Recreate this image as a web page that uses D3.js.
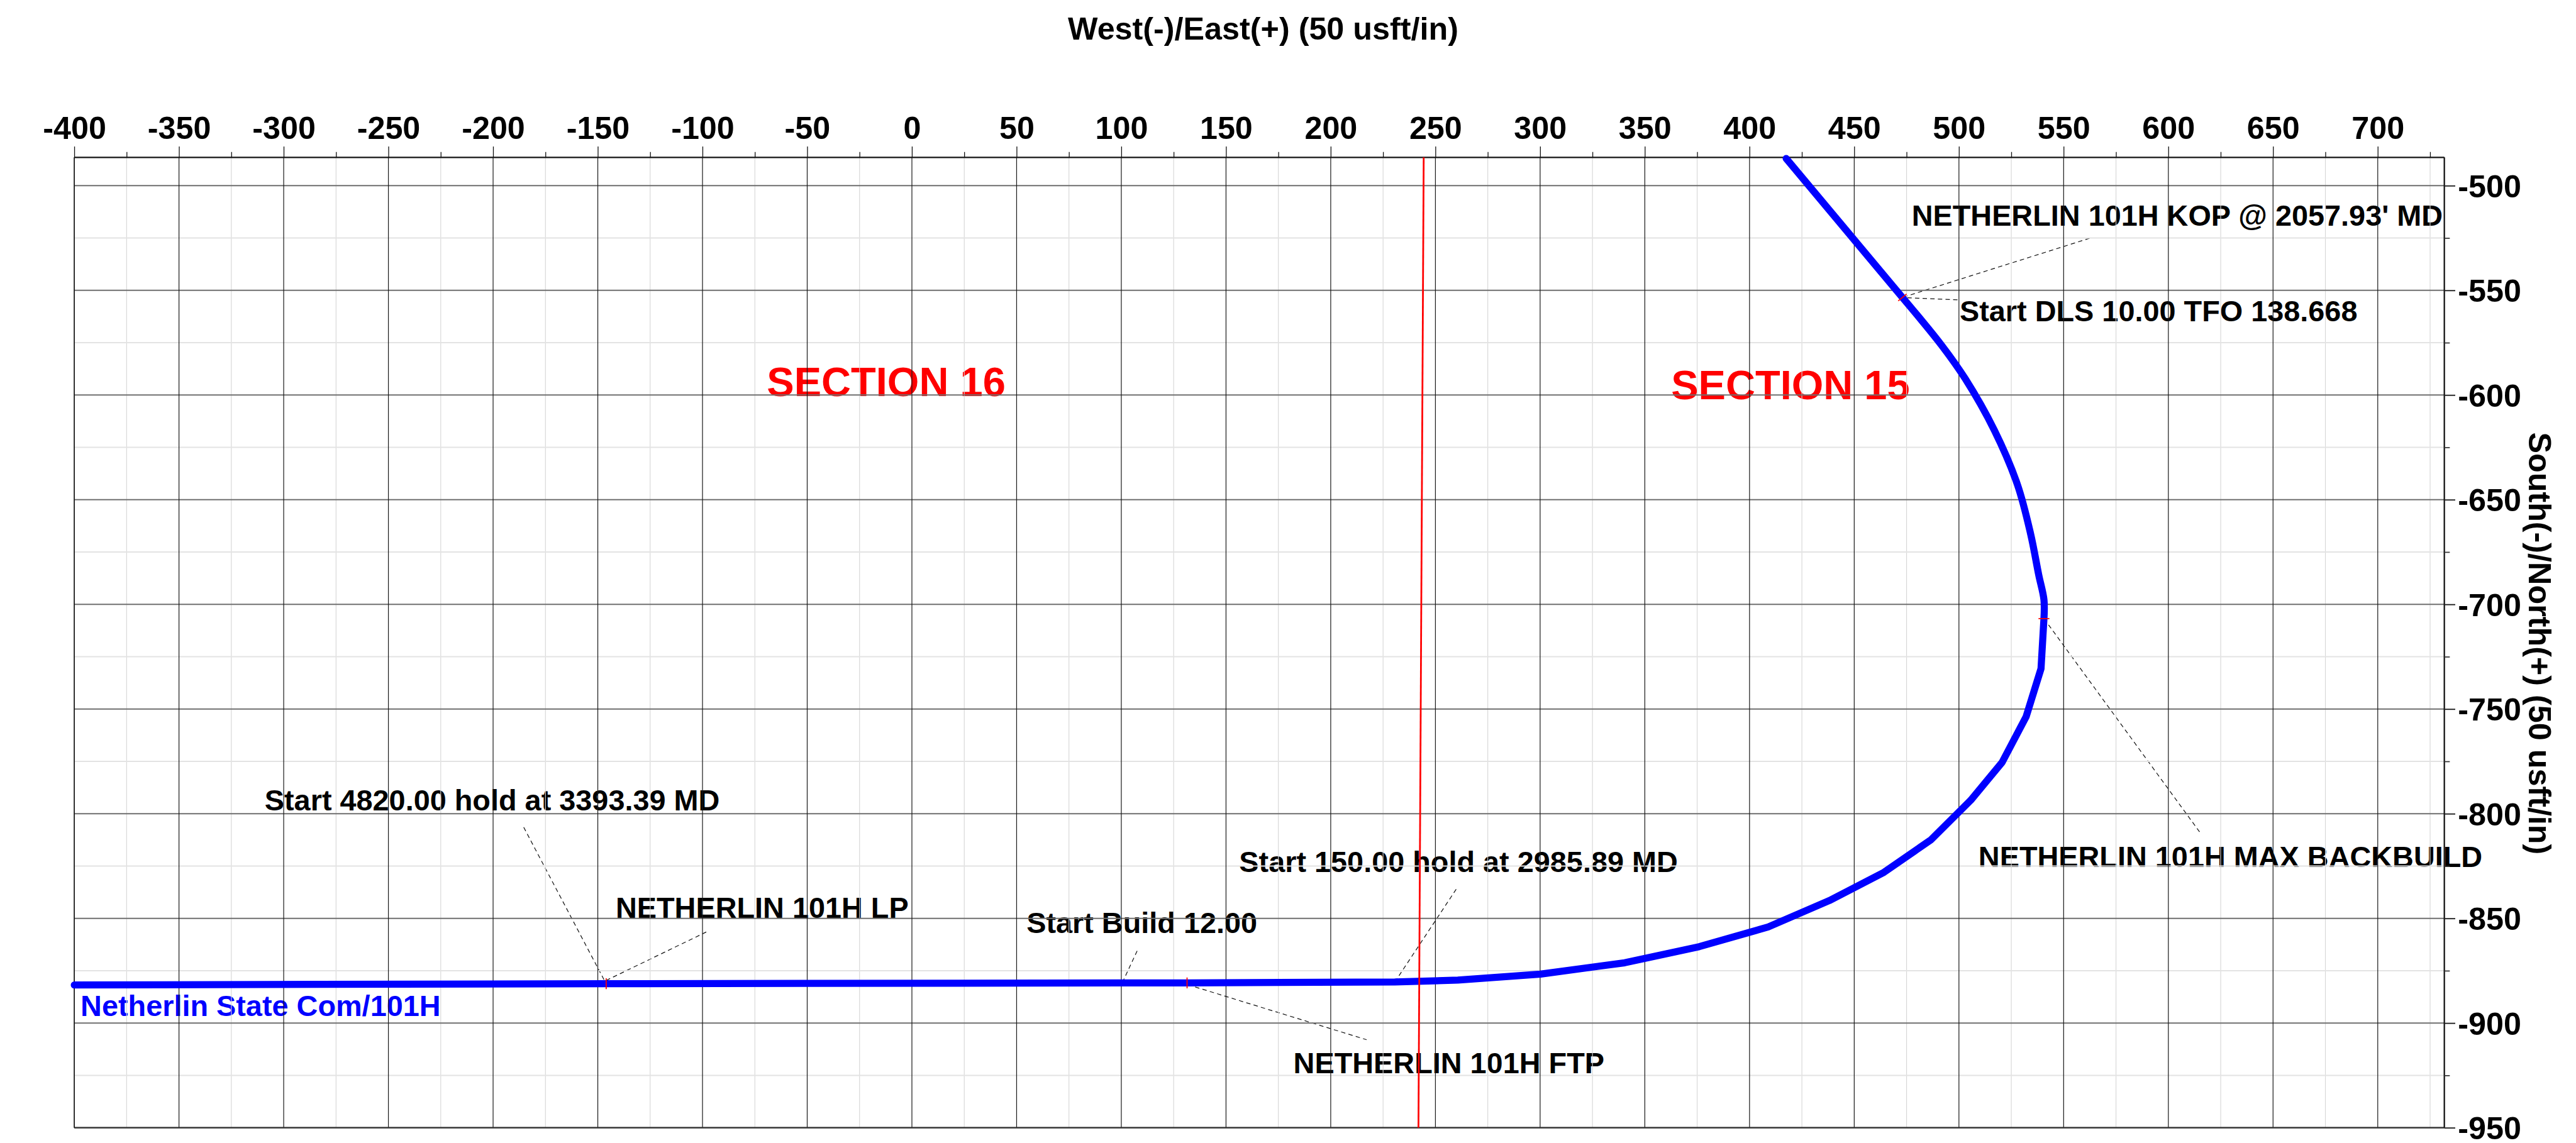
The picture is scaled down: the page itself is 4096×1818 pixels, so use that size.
<!DOCTYPE html>
<html>
<head>
<meta charset="utf-8">
<script src="https://cdn.jsdelivr.net/npm/d3@7"></script>
<style>
  html, body { margin: 0; padding: 0; background: #fff; overflow: hidden; }
  svg { display: block; }
  text { font-family: "Liberation Sans", Arial, Helvetica, sans-serif; font-weight: bold; }
</style>
</head>
<body>
<svg id="chart"></svg>
<script>
// ---- Plan view data (usft) ----
const eastTicks  = [-400, -350, -300, -250, -200, -150, -100, -50, 0, 50, 100, 150, 200, 250, 300, 350, 400, 450, 500, 550, 600, 650, 700];
const eastMinor  = [-375, -325, -275, -225, -175, -125, -75, -25, 25, 75, 125, 175, 225, 275, 325, 375, 425, 475, 525, 575, 625, 675, 725];
const northTicks = [-500, -550, -600, -650, -700, -750, -800, -850, -900, -950];
const northMinor = [-525, -575, -625, -675, -725, -775, -825, -875, -925];

// Netherlin State Com/101H well path, survey stations
const pathEast  = [417.5, 473.0, 491.7, 503.0, 516.9, 527.9, 534.2, 538.1, 540.6, 540.6, 539.2, 532.1, 520.6, 505.7, 486.7, 464.2, 438.1, 408.9, 376.0, 340.4, 300.2, 260.7, 230.6, 131.4, -146.0, -400.0];
const pathNorth = [-487.0, -553.4, -576.2, -592.2, -616.8, -642.7, -666.2, -685.9, -697.8, -706.8, -730.7, -753.6, -775.5, -793.5, -812.4, -828.0, -841.5, -854.1, -863.5, -871.2, -876.6, -879.5, -880.4, -880.8, -881.2, -881.8];

// Section line separating Section 16 (west) and Section 15 (east)
const sectionLineEast  = [244.4, 241.9];
const sectionLineNorth = [-486.5, -950.0];
const sectionNames = ["SECTION 16", "SECTION 15"];

// Annotated stations along the well path
const annotationText = [
  "NETHERLIN 101H KOP @ 2057.93' MD",
  "Start DLS 10.00 TFO 138.668",
  "NETHERLIN 101H MAX BACKBUILD",
  "Start 150.00 hold at 2985.89 MD",
  "NETHERLIN 101H FTP",
  "Start Build 12.00",
  "NETHERLIN 101H LP",
  "Start 4820.00 hold at 3393.39 MD"
];
const annotationEast  = [473.0, 473.0, 540.6, 230.6, 131.4, 100.5, -146.0, -146.0];
const annotationNorth = [-553.4, -553.4, -706.8, -880.4, -880.8, -880.9, -881.2, -881.2];

const wellName = "Netherlin State Com/101H";
const xTitle = "West(-)/East(+) (50 usft/in)";
const yTitle = "South(-)/North(+) (50 usft/in)";

// ---- Layout (drawing units; the svg scales them to the window) ----
const W = 4723, H = 2096;
const plot = { left: 136.2, right: 4481.6, top: 288.7, bottom: 2068.3 };
const eastDomain = [-400, 731.8];
const northDomain = [-486.5, -950];

// path pieces: tangent, DLS build arc (smooth), remainder (straight between stations)
const pathPieces = [
  { from: 0, to: 1, smooth: false },
  { from: 1, to: 9, smooth: true },
  { from: 9, to: pathEast.length - 1, smooth: false }
];

// label placement relative to each annotated station (px): text start, leader ends
const labelLayout = [
  { tx: 17.0,   ty: -131.6, l0: [1.8, -0.6],  l1: [344.3, -108.9], tick: true  },
  { tx: 105.0,  ty: 43.7,   l0: [-4.9, 0.1],  l1: [105.0, 4.4],    tick: false },
  { tx: -120.1, ty: 456.1,  l0: [8.4, 11.4],  l1: [286.1, 392.2],  tick: true  },
  { tx: -285.4, ty: -201.4, l0: [0, 0],       l1: [114.1, -172.5], tick: false },
  { tx: 195.0,  ty: 165.4,  l0: [1.5, 3.4],   l1: [329.2, 104.3],  tick: true  },
  { tx: -175.8, ty: -92.3,  l0: [0, -1],      l1: [29.2, -63.5],   tick: false },
  { tx: 17.4,   ty: -120.8, l0: [0, -6],      l1: [183.5, -94.8],  tick: true  },
  { tx: -626.2, ty: -317.4, l0: [-4, -7.4],   l1: [-153.2, -290.8],tick: false }
];

const svg = d3.select("#chart")
  .attr("width", 4096).attr("height", 1818)
  .attr("viewBox", `0 0 ${W} ${H}`)
  .attr("preserveAspectRatio", "xMinYMin meet");

svg.append("rect").attr("width", W).attr("height", H).attr("fill", "#fff");

const x = d3.scaleLinear().domain(eastDomain).range([plot.left, plot.right]);
const y = d3.scaleLinear().domain(northDomain).range([plot.top, plot.bottom]);

// ---- Annotation texts and section names (under the grid) ----
const textLayer = svg.append("g");

textLayer.selectAll("text.section")
  .data(sectionNames)
  .join("text")
  .attr("class", "section")
  .attr("x", (d, i) => [1406, 3064][i])
  .attr("y", (d, i) => [726, 732][i])
  .attr("font-size", 75)
  .attr("fill", "#ff0000")
  .text(d => d);

const ann = annotationText.map((t, i) => ({
  text: t,
  px: x(annotationEast[i]),
  py: y(annotationNorth[i]),
  lay: labelLayout[i]
}));

textLayer.selectAll("line.leader")
  .data(ann)
  .join("line")
  .attr("class", "leader")
  .attr("x1", d => d.px + d.lay.l0[0]).attr("y1", d => d.py + d.lay.l0[1])
  .attr("x2", d => d.px + d.lay.l1[0]).attr("y2", d => d.py + d.lay.l1[1])
  .attr("stroke", "#111").attr("stroke-width", 1.4)
  .attr("stroke-dasharray", "8,6");

textLayer.selectAll("text.ann")
  .data(ann)
  .join("text")
  .attr("class", "ann")
  .attr("x", d => d.px + d.lay.tx)
  .attr("y", d => d.py + d.lay.ty)
  .attr("font-size", 54)
  .attr("fill", "#000")
  .text(d => d.text);

textLayer.append("text")
  .attr("x", x(pathEast[pathEast.length - 1]) + 11.5)
  .attr("y", y(pathNorth[pathNorth.length - 1]) + 57)
  .attr("font-size", 54)
  .attr("fill", "#0000ff")
  .text(wellName);

// ---- Grid ----
const grid = svg.append("g");
grid.selectAll("line.vminor").data(eastMinor.filter(v => v < eastDomain[1])).join("line")
  .attr("x1", d => x(d)).attr("x2", d => x(d))
  .attr("y1", plot.top).attr("y2", plot.bottom)
  .attr("stroke", "#d6d6d6").attr("stroke-width", 1.3);
grid.selectAll("line.hminor").data(northMinor).join("line")
  .attr("x1", plot.left).attr("x2", plot.right)
  .attr("y1", d => y(d)).attr("y2", d => y(d))
  .attr("stroke", "#e3e3e3").attr("stroke-width", 2.4);
grid.selectAll("line.hmajor").data(northTicks).join("line")
  .attr("x1", plot.left).attr("x2", plot.right)
  .attr("y1", d => y(d)).attr("y2", d => y(d))
  .attr("stroke", "#6f6f6f").attr("stroke-width", 2.4);
grid.selectAll("line.vmajor").data(eastTicks).join("line")
  .attr("x1", d => x(d)).attr("x2", d => x(d))
  .attr("y1", plot.top).attr("y2", plot.bottom)
  .attr("stroke", "#1a1a1a").attr("stroke-width", 1.4);

// frame
grid.append("line").attr("x1", plot.left).attr("x2", plot.right)
  .attr("y1", plot.top).attr("y2", plot.top)
  .attr("stroke", "#111").attr("stroke-width", 2.6);
grid.append("line").attr("x1", plot.left).attr("x2", plot.right)
  .attr("y1", plot.bottom).attr("y2", plot.bottom)
  .attr("stroke", "#333").attr("stroke-width", 2.6);
grid.append("line").attr("x1", plot.right).attr("x2", plot.right)
  .attr("y1", plot.top).attr("y2", plot.bottom)
  .attr("stroke", "#111").attr("stroke-width", 2.6);
grid.append("line").attr("x1", plot.left).attr("x2", plot.left)
  .attr("y1", plot.top).attr("y2", plot.bottom)
  .attr("stroke", "#111").attr("stroke-width", 1.6);

// ---- Axes ----
function styleAxis(g, fontSize) {
  g.select(".domain").remove();
  g.selectAll(".tick line").attr("stroke", "#111").attr("stroke-width", 1.5);
  g.selectAll(".tick text")
    .attr("font-size", fontSize)
    .attr("font-family", '"Liberation Sans", Arial, sans-serif')
    .attr("font-weight", "bold")
    .attr("fill", "#000");
}

const xAxisMinor = svg.append("g").attr("transform", `translate(0,${plot.top})`)
  .call(d3.axisTop(x).tickValues(eastMinor).tickSize(10).tickFormat(""));
styleAxis(xAxisMinor, 0);
const xAxis = svg.append("g").attr("transform", `translate(0,${plot.top})`)
  .call(d3.axisTop(x).tickValues(eastTicks).tickSize(20).tickPadding(14).tickFormat(d => String(d)));
styleAxis(xAxis, 58);

const yAxisMinor = svg.append("g").attr("transform", `translate(${plot.right},0)`)
  .call(d3.axisRight(y).tickValues(northMinor).tickSize(10).tickFormat(""));
styleAxis(yAxisMinor, 0);
yAxisMinor.selectAll(".tick line").attr("stroke", "#333").attr("stroke-width", 2);
const yAxis = svg.append("g").attr("transform", `translate(${plot.right},0)`)
  .call(d3.axisRight(y).tickValues(northTicks).tickSize(20).tickPadding(5).tickFormat(d => String(d)));
styleAxis(yAxis, 58);
yAxis.selectAll(".tick line").attr("stroke", "#222").attr("stroke-width", 2.2);
yAxis.selectAll(".tick text").attr("dy", "0.36em");

// axis titles
svg.append("text")
  .attr("x", 1958).attr("y", 73)
  .attr("font-size", 58).attr("fill", "#000")
  .text(xTitle);
svg.append("text")
  .attr("transform", "translate(4637,1180) rotate(90)")
  .attr("text-anchor", "middle")
  .attr("font-size", 58).attr("fill", "#000")
  .text(yTitle);

// ---- Well path ----
const pathPts = pathEast.map((e, i) => [x(e), y(pathNorth[i])]);
const straight = d3.line().curve(d3.curveLinear);
const smoothArc = d3.line().curve(d3.curveCatmullRom.alpha(0.5));
const pathD = pathPieces
  .map(p => (p.smooth ? smoothArc : straight)(pathPts.slice(p.from, p.to + 1)))
  .join("");
svg.append("path")
  .attr("d", pathD)
  .attr("fill", "none")
  .attr("stroke", "#0000ff")
  .attr("stroke-width", 13)
  .attr("stroke-linecap", "round")
  .attr("stroke-linejoin", "round");

// station markers: short red ticks across the path
function pathDirAt(px, py) {
  let best = null, bestD = Infinity;
  for (let i = 0; i < pathPts.length - 1; i++) {
    const [ax, ay] = pathPts[i], [bx, by] = pathPts[i + 1];
    const dx = bx - ax, dy = by - ay, L2 = dx * dx + dy * dy;
    const t = Math.max(0, Math.min(1, ((px - ax) * dx + (py - ay) * dy) / L2));
    const cx = ax + t * dx, cy = ay + t * dy;
    const d = Math.hypot(px - cx, py - cy);
    if (d < bestD) { bestD = d; best = [dx / Math.sqrt(L2), dy / Math.sqrt(L2)]; }
  }
  return best;
}
svg.append("g").selectAll("line")
  .data(ann.filter(d => d.lay.tick))
  .join("line")
  .each(function (d) {
    const [ux, uy] = pathDirAt(d.px, d.py);
    const nx = -uy, ny = ux, h = 10;
    d3.select(this)
      .attr("x1", d.px - nx * h).attr("y1", d.py - ny * h)
      .attr("x2", d.px + nx * h).attr("y2", d.py + ny * h);
  })
  .attr("stroke", "#ff0000").attr("stroke-width", 2);

// ---- Section line ----
svg.append("path")
  .attr("d", d3.line()(sectionLineEast.map((e, i) => [x(e), y(sectionLineNorth[i])])))
  .attr("fill", "none")
  .attr("stroke", "#ff0000")
  .attr("stroke-width", 3.2);
</script>
</body>
</html>
